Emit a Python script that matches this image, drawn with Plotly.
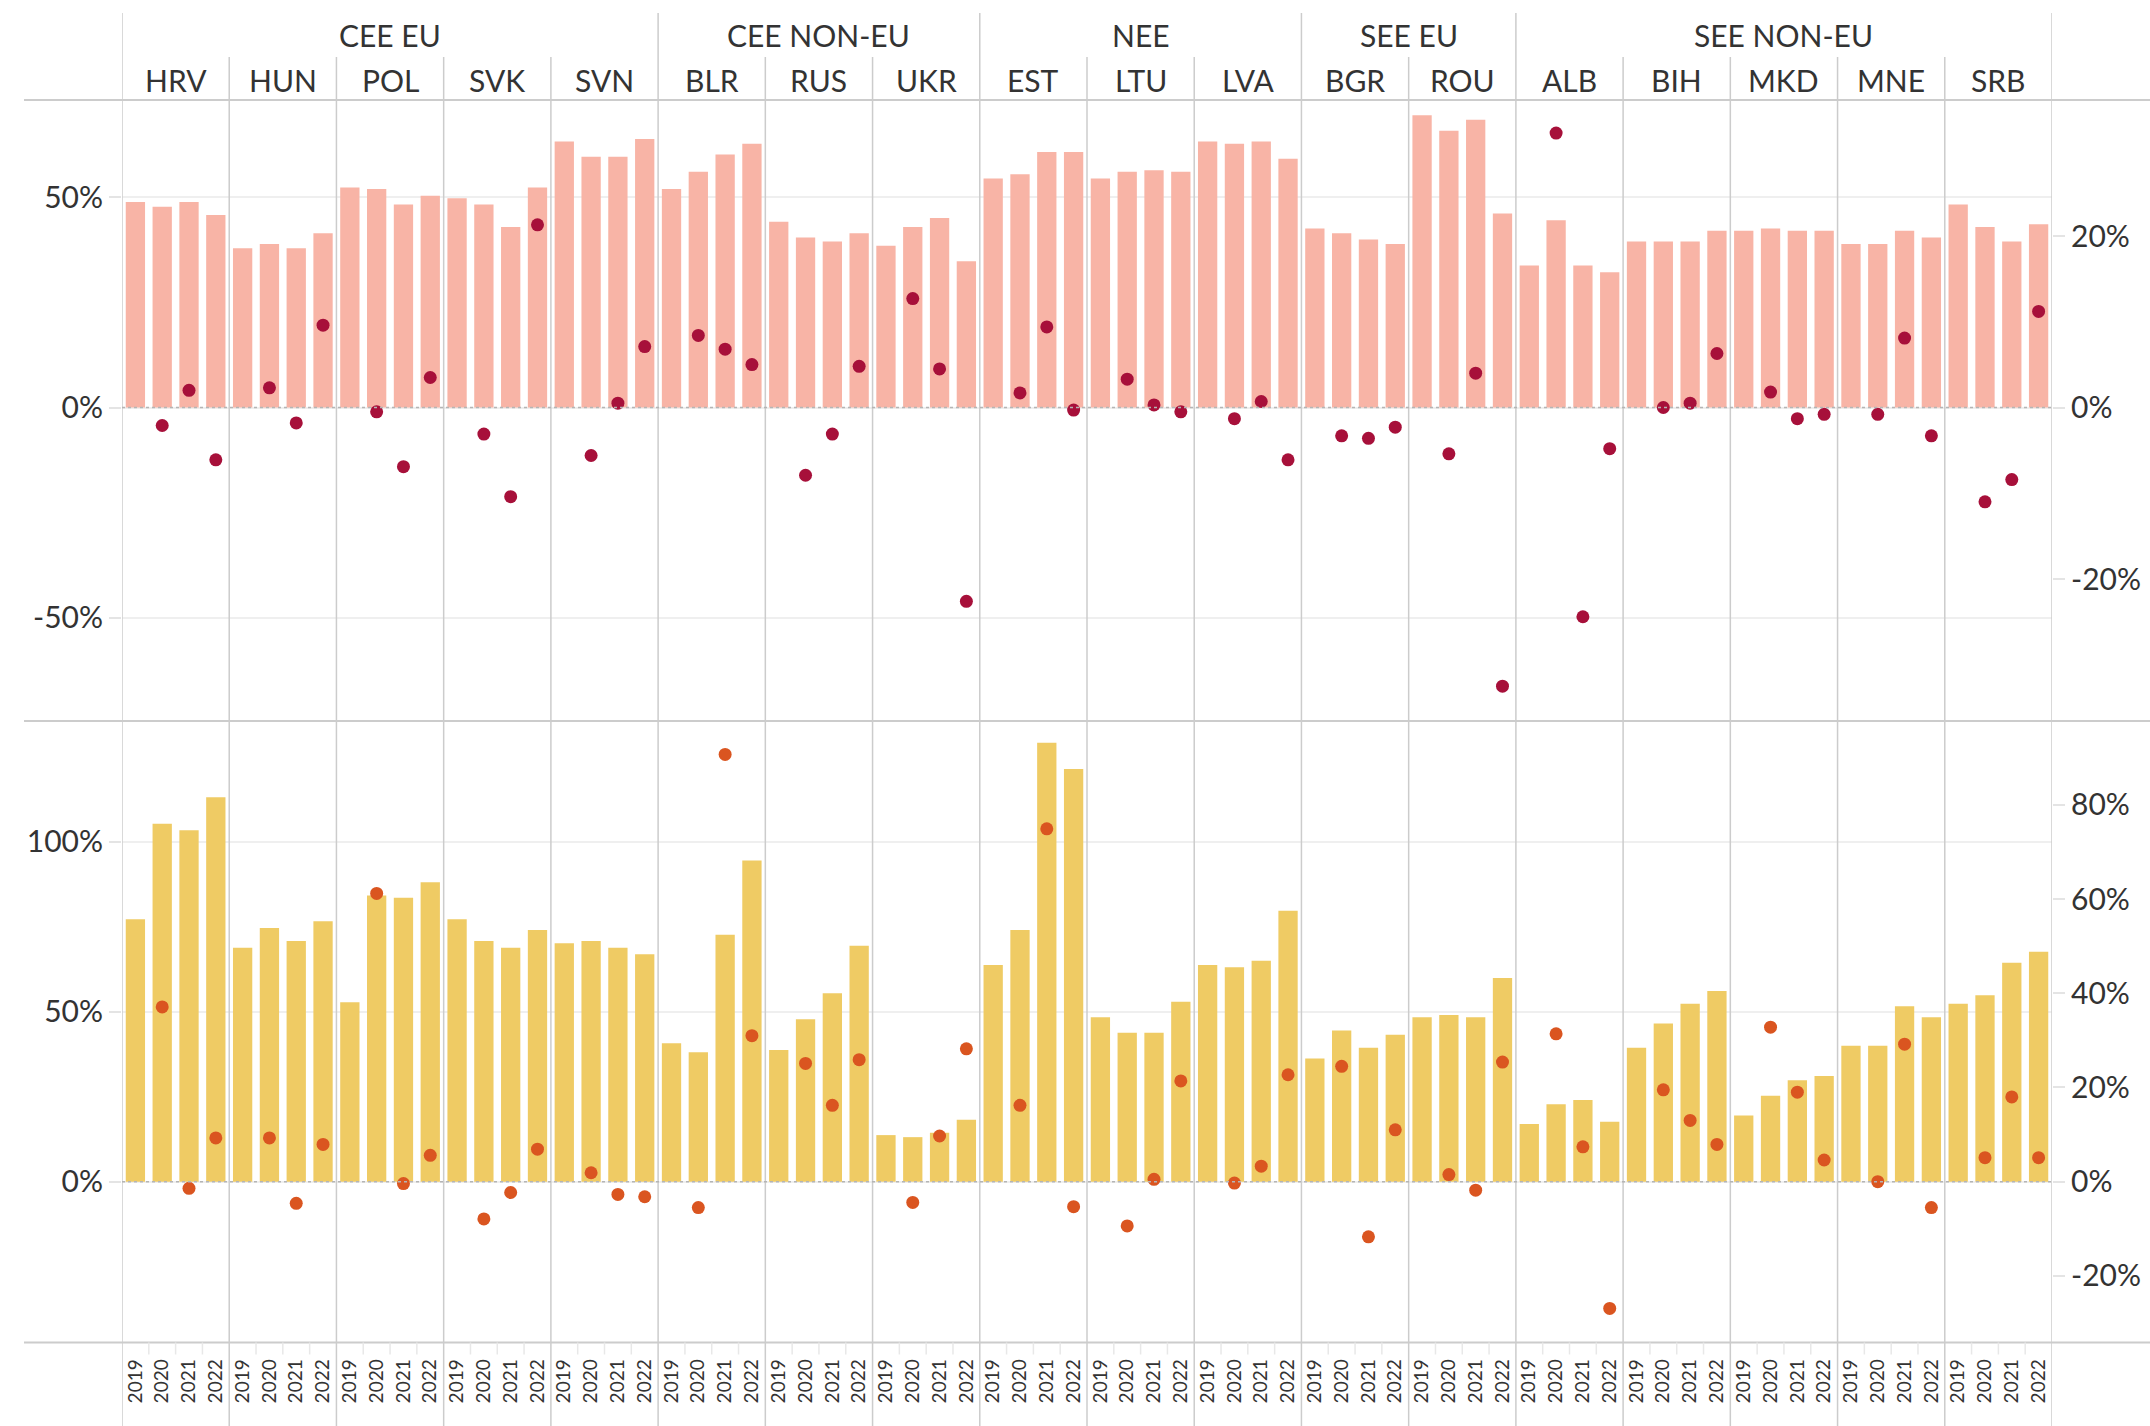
import plotly.graph_objects as go

countries = ['HRV', 'HUN', 'POL', 'SVK', 'SVN', 'BLR', 'RUS', 'UKR', 'EST',
             'LTU', 'LVA', 'BGR', 'ROU', 'ALB', 'BIH', 'MKD', 'MNE', 'SRB']
groups = ['CEE EU', 'CEE NON-EU', 'NEE', 'SEE EU', 'SEE NON-EU']
group_sizes = [5, 3, 3, 2, 5]
years = ['2019', '2020', '2021', '2022']

# Top panel: bars (left axis, %) for 2019-2022
top_bars = [
    [48.9, 47.8, 48.9, 45.8], [37.9, 38.9, 37.9, 41.5], [52.4, 52.0, 48.3, 50.4],
    [49.8, 48.3, 43.0, 52.4], [63.3, 59.7, 59.7, 63.9], [52.0, 56.1, 60.2, 62.8],
    [44.2, 40.5, 39.5, 41.5], [38.5, 43.0, 45.1, 34.8], [54.5, 55.5, 60.8, 60.8],
    [54.5, 56.1, 56.5, 56.1], [63.3, 62.8, 63.3, 59.2], [42.6, 41.5, 40.0, 38.9],
    [69.6, 65.9, 68.5, 46.2], [33.8, 44.6, 33.8, 32.2], [39.5, 39.5, 39.5, 42.1],
    [42.1, 42.6, 42.1, 42.1], [38.9, 38.9, 42.1, 40.5], [48.3, 43.0, 39.5, 43.6],
]
# Top panel: dots (right axis, %) for 2020-2022
top_dots = [
    [-2.1, 2.0, -6.1], [2.3, -1.8, 9.6], [-0.5, -6.9, 3.5],
    [-3.1, -10.4, 21.3], [-5.6, 0.5, 7.1], [8.4, 6.8, 5.0],
    [-7.9, -3.1, 4.8], [12.7, 4.5, -22.6], [1.7, 9.4, -0.3],
    [3.3, 0.3, -0.5], [-1.3, 0.7, -6.1], [-3.3, -3.6, -2.3],
    [-5.4, 4.0, -32.5], [32.0, -24.4, -4.8], [0.0, 0.5, 6.3],
    [1.8, -1.3, -0.8], [-0.8, 8.1, -3.3], [-11.0, -8.4, 11.2],
]
# Bottom panel: bars (left axis, %) for 2019-2022
bottom_bars = [
    [77.2, 105.3, 103.4, 113.1], [68.8, 74.6, 70.8, 76.6], [52.8, 84.2, 83.5, 88.1],
    [77.2, 70.8, 68.8, 74.0], [70.1, 70.8, 68.8, 66.9], [40.7, 38.1, 72.6, 94.5],
    [38.7, 47.8, 55.4, 69.4], [13.7, 13.1, 14.4, 18.2], [63.7, 74.0, 129.1, 121.4],
    [48.4, 43.8, 43.8, 52.9], [63.7, 63.1, 65.0, 79.7], [36.2, 44.5, 39.4, 43.2],
    [48.4, 49.0, 48.4, 59.9], [17.0, 22.8, 24.0, 17.6], [39.4, 46.5, 52.3, 56.1],
    [19.5, 25.3, 29.8, 31.1], [40.0, 40.0, 51.6, 48.4], [52.3, 54.8, 64.4, 67.6],
]
# Bottom panel: dots (right axis, %) for 2020-2022
bottom_dots = [
    [37.1, -1.4, 9.3], [9.3, -4.6, 7.9], [61.2, -0.4, 5.6],
    [-7.9, -2.3, 6.9], [1.9, -2.7, -3.2], [-5.5, 90.7, 31.0],
    [25.1, 16.2, 25.9], [-4.4, 9.7, 28.2], [16.2, 74.9, -5.3],
    [-9.4, 0.5, 21.4], [-0.3, 3.3, 22.7], [24.5, -11.7, 11.0],
    [1.5, -1.8, 25.4], [31.4, 7.4, -26.9], [19.5, 13.0, 7.9],
    [32.8, 19.0, 4.6], [0.0, 29.2, -5.5], [5.1, 18.0, 5.1],
]

W, H = 2150, 1426
NY = len(years)
NC = len(countries)
N = NC * NY

bar_x = [c * NY + k for c in range(NC) for k in range(NY)]
dot_x = [c * NY + k for c in range(NC) for k in range(1, NY)]
flat = lambda rows: [v for r in rows for v in r]


def py(p):
    return 1 - p / H


X0, X1 = 122, 2052
TOP = (100, 721)
BOT = (721, 1342.5)

PINK = '#F8B4A6'
RED = '#A7103A'
YELLOW = '#EFCB64'
ORANGE = '#DA5520'
TXT = '#333333'
SEP = '#cccccc'
FONT = 'Lato'

fig = go.Figure()
fig.add_trace(go.Bar(x=bar_x, y=flat(top_bars), width=0.72, marker_color=PINK,
                     marker_line_width=0, xaxis='x', yaxis='y'))
fig.add_trace(go.Scatter(x=dot_x, y=flat(top_dots), mode='markers',
                         marker=dict(size=13, color=RED), xaxis='x', yaxis='y2'))
fig.add_trace(go.Bar(x=bar_x, y=flat(bottom_bars), width=0.72, marker_color=YELLOW,
                     marker_line_width=0, xaxis='x', yaxis='y3'))
fig.add_trace(go.Scatter(x=dot_x, y=flat(bottom_dots), mode='markers',
                         marker=dict(size=13, color=ORANGE), xaxis='x', yaxis='y4'))

common_y = dict(showline=False, zeroline=False, ticks='outside', ticklen=12,
                tickwidth=2, tickcolor='#e4e4e4',
                tickfont=dict(family=FONT, size=30, color=TXT))
pct = lambda vals: [f'{v}%' for v in vals]

fig.update_layout(
    width=W, height=H, margin=dict(l=0, r=0, t=0, b=0),
    paper_bgcolor='white', plot_bgcolor='rgba(0,0,0,0)',
    showlegend=False, font=dict(family=FONT, color=TXT),
    xaxis=dict(domain=[X0 / W, X1 / W], range=[-0.5, N - 0.5], anchor='y3',
               tickvals=bar_x, ticktext=years * NC, tickangle=-90,
               tickfont=dict(family=FONT, size=19, color=TXT),
               showgrid=False, zeroline=False, showline=False, ticks='',
               ticklabelstandoff=12),
    yaxis=dict(domain=[py(TOP[1]), py(TOP[0])], range=[-74.6, 73.2],
               tickvals=[-50, 0, 50], ticktext=pct([-50, 0, 50]),
               showgrid=True, gridcolor='#efefef', gridwidth=2, anchor='x', **common_y),
    yaxis2=dict(overlaying='y', side='right', anchor='x', range=[-36.56, 35.86],
                tickvals=[-20, 0, 20], ticktext=pct([-20, 0, 20]), showgrid=False,
                **common_y),
    yaxis3=dict(domain=[py(BOT[1]), py(BOT[0])], range=[-47.3, 135.5],
                tickvals=[0, 50, 100], ticktext=pct([0, 50, 100]),
                showgrid=True, gridcolor='#efefef', gridwidth=2, anchor='x', **common_y),
    yaxis4=dict(overlaying='y3', side='right', anchor='x', range=[-34.14, 97.8],
                tickvals=[-20, 0, 20, 40, 60, 80], ticktext=pct([-20, 0, 20, 40, 60, 80]),
                showgrid=False, **common_y),
)

shapes = []
# horizontal frame lines
for yp in (TOP[0], TOP[1], BOT[1]):
    shapes.append(dict(type='line', xref='paper', yref='paper', x0=24 / W, x1=1,
                       y0=py(yp), y1=py(yp), line=dict(color=SEP, width=2), layer='above'))
# vertical separators
group_starts = set()
acc = 0
for g in group_sizes:
    group_starts.add(acc)
    acc += g
group_starts.add(acc)
for c in range(NC + 1):
    xb = c * NY - 0.5
    top_y = 13 if c in group_starts else 57
    shapes.append(dict(type='line', xref='x', yref='paper', x0=xb, x1=xb,
                       y0=py(top_y), y1=0, line=dict(color=SEP, width=1.5), layer='above'))
# minor separators between year labels
for c in range(NC):
    for k in range(1, NY):
        xb = c * NY + k - 0.5
        shapes.append(dict(type='line', xref='x', yref='paper', x0=xb, x1=xb,
                           y0=py(BOT[1]), y1=py(BOT[1] + 12),
                           line=dict(color='#e8e8e8', width=1.5), layer='above'))
# dotted zero lines
for yr in ('y', 'y3'):
    shapes.append(dict(type='line', xref='x', yref=yr, x0=-0.5, x1=N - 0.5, y0=0, y1=0,
                       line=dict(color='#b5b5b5', width=1.5, dash='dot'), layer='above'))
fig.update_layout(shapes=shapes)

ann = []
acc = 0
for g, n in zip(groups, group_sizes):
    cx = (acc * NY + (acc + n) * NY) / 2 - 0.5
    ann.append(dict(text=g, x=cx, y=py(35), xref='x', yref='paper', showarrow=False,
                    font=dict(family=FONT, size=30, color=TXT), yanchor='middle'))
    acc += n
for c, name in enumerate(countries):
    ann.append(dict(text=name, x=c * NY + 1.5, y=py(80), xref='x', yref='paper',
                    showarrow=False, font=dict(family=FONT, size=30, color=TXT),
                    yanchor='middle'))
fig.update_layout(annotations=ann)

fig.write_html('out.html', config={'displayModeBar': False},
               post_script="document.body.style.margin='0';")
